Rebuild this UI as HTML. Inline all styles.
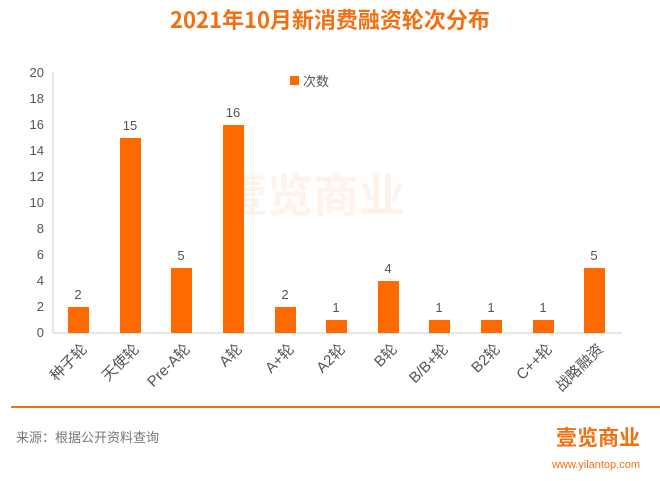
<!DOCTYPE html>
<html><head><meta charset="utf-8"><style>
body{margin:0;width:660px;height:476px;background:#fff;overflow:hidden;font-family:"Liberation Sans","Noto Sans CJK SC",sans-serif;}
</style></head><body>
<svg width="660" height="476" xmlns="http://www.w3.org/2000/svg" font-family="Liberation Sans, Noto Sans CJK SC, sans-serif">
<text x="330" y="28" text-anchor="middle" font-size="22" font-weight="bold" fill="#f26f12" font-family="Noto Sans CJK SC, sans-serif">2021年10月新消费融资轮次分布</text>
<text x="313" y="212" text-anchor="middle" font-size="46" font-weight="bold" fill="#f26f12" opacity="0.08" font-family="Noto Sans CJK SC, sans-serif">壹览商业</text>
<g font-size="13" fill="#555" text-anchor="end">
<text x="44" y="77">20</text><text x="44" y="103">18</text><text x="44" y="129">16</text><text x="44" y="155">14</text><text x="44" y="181">12</text><text x="44" y="207">10</text><text x="44" y="233">8</text><text x="44" y="259">6</text><text x="44" y="285">4</text><text x="44" y="311">2</text><text x="44" y="337">0</text>
</g>
<line x1="53" y1="72" x2="53" y2="333" stroke="#ccc"/>
<line x1="53" y1="333" x2="622" y2="333" stroke="#ccc"/>
<rect x="290" y="76" width="9" height="9" fill="#ff6a00"/>
<text x="303" y="86" font-size="13" fill="#555">次数</text>
<g fill="#ff6a00">
<rect x="68" y="307" width="21" height="26"/>
<rect x="120" y="138" width="21" height="195"/>
<rect x="171" y="268" width="21" height="65"/>
<rect x="223" y="125" width="21" height="208"/>
<rect x="275" y="307" width="21" height="26"/>
<rect x="326" y="320" width="21" height="13"/>
<rect x="378" y="281" width="21" height="52"/>
<rect x="429" y="320" width="21" height="13"/>
<rect x="481" y="320" width="21" height="13"/>
<rect x="533" y="320" width="21" height="13"/>
<rect x="584" y="268" width="21" height="65"/>
</g>
<g font-size="13" fill="#555" text-anchor="middle">
<text x="78" y="299">2</text><text x="130" y="130">15</text><text x="181" y="260">5</text><text x="233" y="117">16</text><text x="285" y="299">2</text><text x="336" y="312">1</text><text x="388" y="273">4</text><text x="439" y="312">1</text><text x="491" y="312">1</text><text x="543" y="312">1</text><text x="594" y="260">5</text>
</g>
<g font-size="15" fill="#555" text-anchor="end">
<text transform="translate(88,350) rotate(-45)">种子轮</text>
<text transform="translate(140,350) rotate(-45)">天使轮</text>
<text transform="translate(191,350) rotate(-45)">Pre-A轮</text>
<text transform="translate(243,350) rotate(-45)">A轮</text>
<text transform="translate(295,350) rotate(-45)">A+轮</text>
<text transform="translate(346,350) rotate(-45)">A2轮</text>
<text transform="translate(398,350) rotate(-45)">B轮</text>
<text transform="translate(449,350) rotate(-45)">B/B+轮</text>
<text transform="translate(501,350) rotate(-45)">B2轮</text>
<text transform="translate(553,350) rotate(-45)">C++轮</text>
<text transform="translate(604,350) rotate(-45)">战略融资</text>
</g>
<rect x="11" y="406" width="649" height="2" fill="#f26f12"/>
<text x="16" y="442" font-size="13" fill="#777">来源：根据公开资料查询</text>
<text x="598" y="445" text-anchor="middle" font-size="21" font-weight="bold" fill="#f26f12" font-family="Noto Sans CJK SC, sans-serif">壹览商业</text>
<text x="596" y="468" text-anchor="middle" font-size="11" fill="#f26f12">www.yilantop.com</text>
</svg>
</body></html>
